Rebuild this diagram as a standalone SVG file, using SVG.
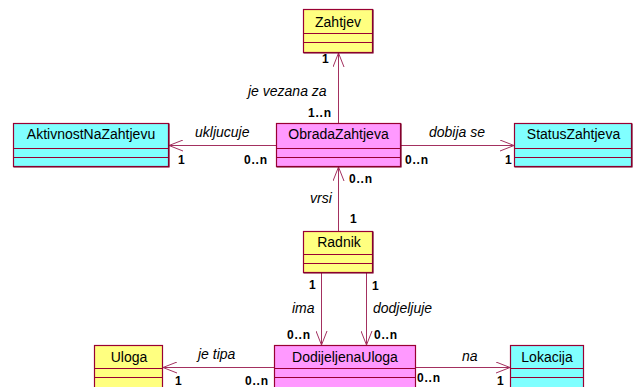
<svg xmlns="http://www.w3.org/2000/svg" width="639" height="387" viewBox="0 0 639 387">
  <style>
    .box { stroke: #990033; stroke-width: 1.2; }
    .sep { stroke: #990033; stroke-width: 1; fill: none; }
    .shadow { stroke: #7a0028; stroke-width: 1.2; fill: none; }
    .yellow { fill: #ffff80; }
    .pink { fill: #ff99ff; }
    .cyan { fill: #80ffff; }
    .name { font-family: "Liberation Sans", Arial, sans-serif; font-size: 14px; fill: #000; text-anchor: middle; }
    .role { font-family: "Liberation Sans", Arial, sans-serif; font-size: 14px; font-style: italic; fill: #000; }
    .mult { font-family: "Liberation Sans", Arial, sans-serif; font-size: 12px; font-weight: bold; fill: #000; letter-spacing: 0.8px; }
    .conn { stroke: #a3305f; stroke-width: 1; fill: none; }
  </style>
  <defs>
    <marker id="open" viewBox="0 0 15 12" refX="14.5" refY="6" markerWidth="15" markerHeight="12" markerUnits="userSpaceOnUse" orient="auto">
      <path d="M0.5,0.5 L14.5,6 L0.5,11.5" fill="none" stroke="#a3305f" stroke-width="1"/>
    </marker>
  </defs>

  <rect width="639" height="387" fill="#ffffff"/>

  <!-- associations -->
  <g id="connectors">
    <line class="conn" x1="338.5" y1="123" x2="338.5" y2="53" marker-end="url(#open)"/>
    <line class="conn" x1="276" y1="145.5" x2="169" y2="145.5" marker-end="url(#open)"/>
    <line class="conn" x1="401" y1="145.5" x2="514" y2="145.5" marker-end="url(#open)"/>
    <line class="conn" x1="338.5" y1="231" x2="338.5" y2="167" marker-end="url(#open)"/>
    <line class="conn" x1="321.5" y1="273" x2="321.5" y2="345" marker-end="url(#open)"/>
    <line class="conn" x1="366.5" y1="273" x2="366.5" y2="345" marker-end="url(#open)"/>
    <line class="conn" x1="274" y1="367.5" x2="163" y2="367.5" marker-end="url(#open)"/>
    <line class="conn" x1="416" y1="367.5" x2="510" y2="367.5" marker-end="url(#open)"/>

    <!-- association labels -->
    <text class="role" x="248" y="96">je vezana za</text>
    <text class="mult" x="322" y="63">1</text>
    <text class="mult" x="308" y="117">1..n</text>

    <text class="role" x="195" y="137">ukljucuje</text>
    <text class="mult" x="178" y="164">1</text>
    <text class="mult" x="244" y="164">0..n</text>

    <text class="role" x="429" y="137">dobija se</text>
    <text class="mult" x="405" y="164">0..n</text>
    <text class="mult" x="505" y="164">1</text>

    <text class="mult" x="349" y="183">0..n</text>
    <text class="role" x="310" y="203">vrsi</text>
    <text class="mult" x="350" y="223">1</text>

    <text class="mult" x="309" y="289">1</text>
    <text class="role" x="292" y="313">ima</text>
    <text class="mult" x="287" y="339">0..n</text>

    <text class="mult" x="372" y="290">1</text>
    <text class="role" x="373" y="313">dodjeljuje</text>
    <text class="mult" x="374" y="339">0..n</text>

    <text class="role" x="198" y="359">je tipa</text>
    <text class="mult" x="175" y="385">1</text>
    <text class="mult" x="245" y="385">0..n</text>

    <text class="role" x="462" y="361">na</text>
    <text class="mult" x="417" y="382">0..n</text>
    <text class="mult" x="497" y="385">1</text>
  </g>

  <!-- classes -->
  <g id="Zahtjev">
    <rect class="box yellow" x="303.5" y="9.5" width="69" height="43"/>
    <path class="sep" d="M303.5,33.5 H372.5 M303.5,42.5 H372.5"/>
    <path class="shadow" d="M303.5,53 H373 V9.5"/>
    <text class="name" x="338" y="27">Zahtjev</text>
  </g>

  <g id="AktivnostNaZahtjevu">
    <rect class="box cyan" x="13.5" y="123.5" width="155" height="43"/>
    <path class="sep" d="M13.5,148.5 H168.5 M13.5,157.5 H168.5"/>
    <path class="shadow" d="M13.5,167 H169 V123.5"/>
    <text class="name" x="91" y="139">AktivnostNaZahtjevu</text>
  </g>

  <g id="ObradaZahtjeva">
    <rect class="box pink" x="276.5" y="123.5" width="124" height="43"/>
    <path class="sep" d="M276.5,148.5 H400.5 M276.5,157.5 H400.5"/>
    <path class="shadow" d="M276.5,167 H401 V123.5"/>
    <text class="name" x="338.5" y="139">ObradaZahtjeva</text>
  </g>

  <g id="StatusZahtjeva">
    <rect class="box cyan" x="514.5" y="123.5" width="117" height="43"/>
    <path class="sep" d="M514.5,148.5 H631.5 M514.5,157.5 H631.5"/>
    <path class="shadow" d="M514.5,167 H632 V123.5"/>
    <text class="name" x="573.5" y="139">StatusZahtjeva</text>
  </g>

  <g id="Radnik">
    <rect class="box yellow" x="303.5" y="231.5" width="69" height="41"/>
    <path class="sep" d="M303.5,254.5 H372.5 M303.5,263.5 H372.5"/>
    <path class="shadow" d="M303.5,273 H373 V231.5"/>
    <text class="name" x="339" y="247">Radnik</text>
  </g>

  <g id="Uloga">
    <rect class="box yellow" x="94.5" y="345.5" width="68" height="46"/>
    <path class="sep" d="M94.5,368.5 H162.5 M94.5,377.5 H162.5"/>
    <text class="name" x="129" y="362">Uloga</text>
  </g>

  <g id="DodijeljenaUloga">
    <rect class="box pink" x="274.5" y="345.5" width="141" height="46"/>
    <path class="sep" d="M274.5,368.5 H415.5 M274.5,377.5 H415.5"/>
    <text class="name" x="345" y="362">DodijeljenaUloga</text>
  </g>

  <g id="Lokacija">
    <rect class="box cyan" x="510.5" y="345.5" width="73" height="46"/>
    <path class="sep" d="M510.5,368.5 H583.5 M510.5,377.5 H583.5"/>
    <text class="name" x="547" y="362">Lokacija</text>
  </g>
</svg>
